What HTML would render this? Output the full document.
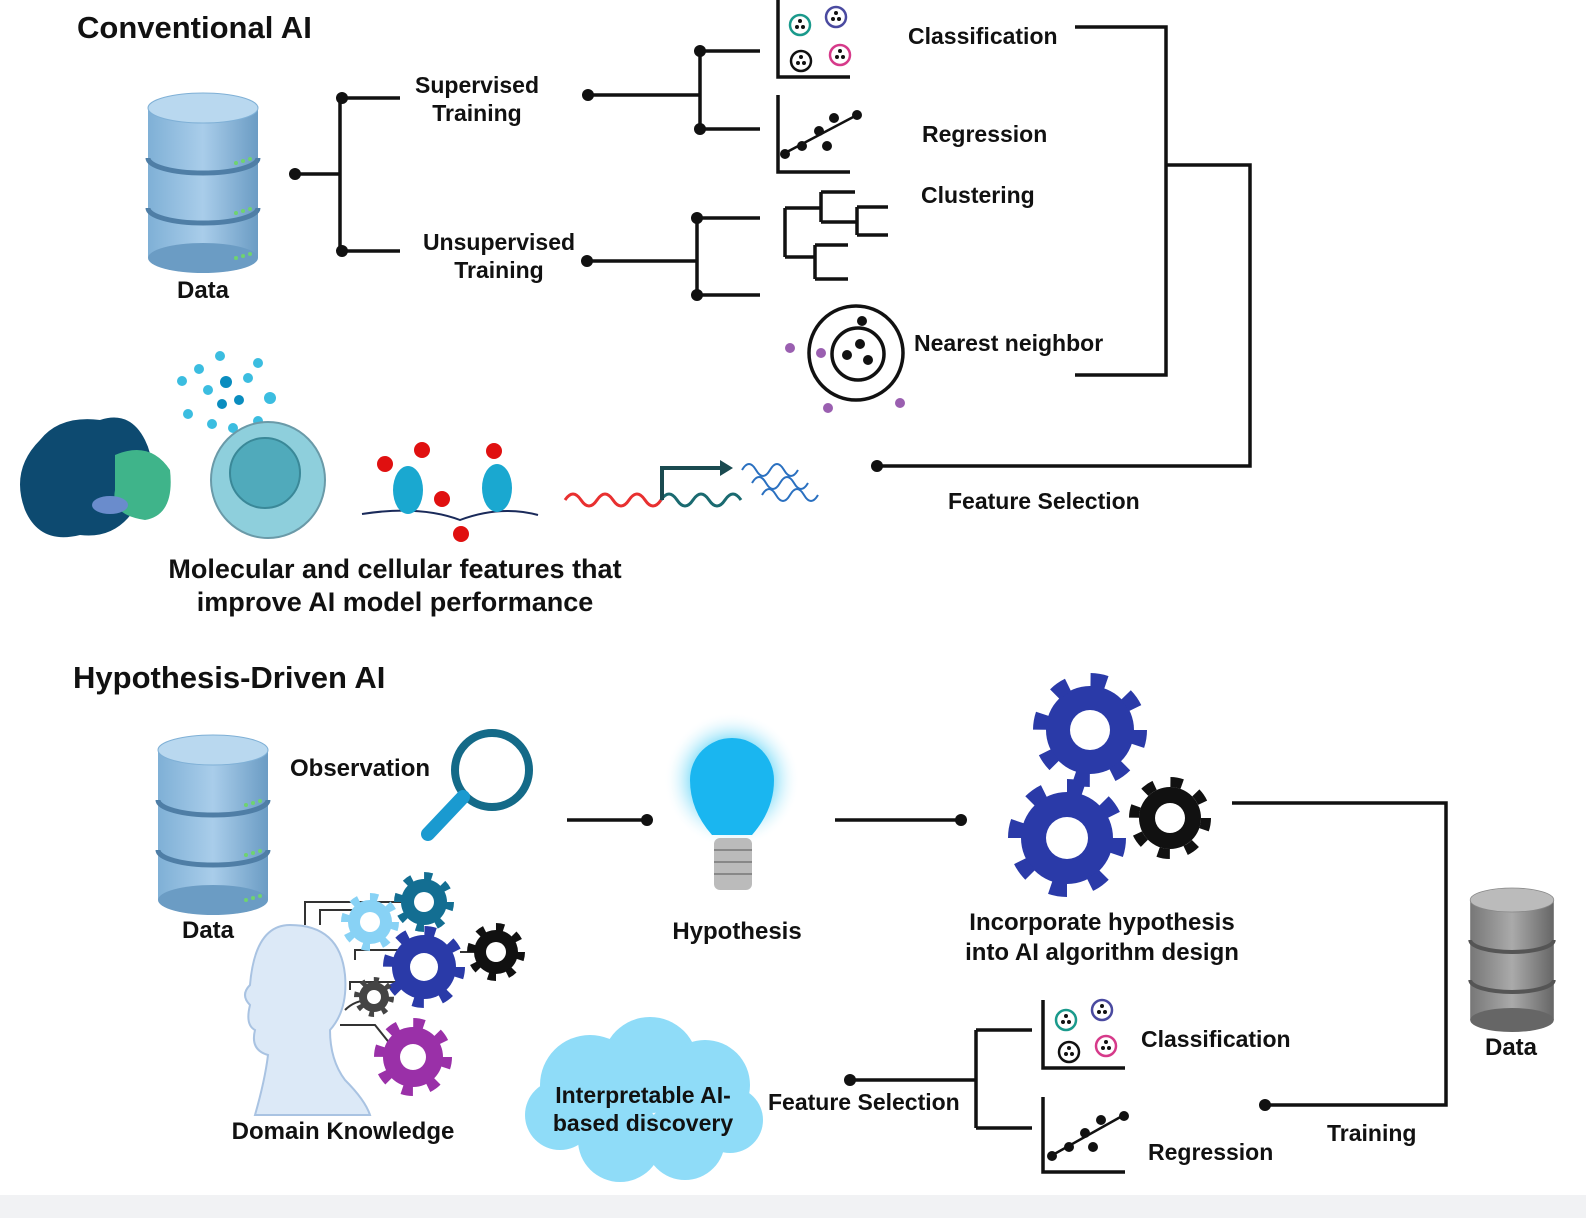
<!DOCTYPE html>
<html><head><meta charset="utf-8"><style>
html,body{margin:0;padding:0;background:#fff}
svg{display:block}
text{font-family:"Liberation Sans",sans-serif;font-weight:bold;fill:#111}
</style></head><body>
<svg width="1586" height="1218" viewBox="0 0 1586 1218" xmlns="http://www.w3.org/2000/svg">
<defs>
<linearGradient id="dbb" x1="0" x2="1"><stop offset="0" stop-color="#7fb0d6"/><stop offset=".5" stop-color="#a9cdea"/><stop offset="1" stop-color="#6b9cc4"/></linearGradient>
<linearGradient id="dbg" x1="0" x2="1"><stop offset="0" stop-color="#777"/><stop offset=".5" stop-color="#aaa"/><stop offset="1" stop-color="#666"/></linearGradient>
<radialGradient id="glow"><stop offset="0" stop-color="#29c6f5"/><stop offset=".6" stop-color="#7fdcf8" stop-opacity=".8"/><stop offset="1" stop-color="#fff" stop-opacity="0"/></radialGradient>
<g id="db">
<rect x="-55" y="0" width="110" height="150" fill="url(#dbb)"/>
<ellipse cx="0" cy="150" rx="55" ry="15" fill="#6b9cc4"/>
<path d="M-55 50 a55 15 0 0 0 110 0" fill="none" stroke="#4f7ea6" stroke-width="5"/>
<path d="M-55 100 a55 15 0 0 0 110 0" fill="none" stroke="#4f7ea6" stroke-width="5"/>
<ellipse cx="0" cy="0" rx="55" ry="15" fill="#b9d8ef" stroke="#7fb0d6"/>
<circle cx="33" cy="55" r="2" fill="#6fd36f"/><circle cx="40" cy="53" r="2" fill="#6fd36f"/><circle cx="47" cy="51" r="2" fill="#6fd36f"/>
<circle cx="33" cy="105" r="2" fill="#6fd36f"/><circle cx="40" cy="103" r="2" fill="#6fd36f"/><circle cx="47" cy="101" r="2" fill="#6fd36f"/>
<circle cx="33" cy="150" r="2" fill="#6fd36f"/><circle cx="40" cy="148" r="2" fill="#6fd36f"/><circle cx="47" cy="146" r="2" fill="#6fd36f"/>
</g>
</defs>
<rect x="0" y="1195" width="1586" height="23" fill="#f1f2f4"/>

<text x="77" y="38" font-size="31">Conventional AI</text>
<use href="#db" x="203" y="108"/>
<text x="203" y="298" font-size="24" text-anchor="middle">Data</text>

<g stroke="#111" stroke-width="3.5" fill="none">
<path d="M295 174H340M340 98V251M340 98H400M340 251H400"/>
<path d="M588 95H700M700 51V129M700 51H760M700 129H760"/>
<path d="M587 261H697M697 218V295M697 218H760M697 295H760"/>
<path d="M778 0V77H850M778 95V172H850"/>
<path d="M785 208V257M785 208H821M821 192V222M821 192H855M821 222H857M857 207V235M857 207H888M857 235H888M785 257H815M815 245V279M815 245H848M815 279H848"/>
<path d="M1075 27H1166V375H1075M1166 165H1250V466H877"/>
<path d="M785 153L857 115" stroke-width="2.5"/>
</g>
<g fill="#111"><circle cx="295" cy="174" r="6"/><circle cx="342" cy="98" r="6"/><circle cx="342" cy="251" r="6"/>
<circle cx="588" cy="95" r="6"/><circle cx="700" cy="51" r="6"/><circle cx="700" cy="129" r="6"/>
<circle cx="587" cy="261" r="6"/><circle cx="697" cy="218" r="6"/><circle cx="697" cy="295" r="6"/>
<circle cx="877" cy="466" r="6"/>
<circle cx="785" cy="154" r="5"/><circle cx="802" cy="146" r="5"/><circle cx="819" cy="131" r="5"/><circle cx="827" cy="146" r="5"/><circle cx="834" cy="118" r="5"/><circle cx="857" cy="115" r="5"/>
</g>
<g fill="none" stroke-width="2.5"><circle cx="800" cy="25" r="10" stroke="#1a9a8c"/><circle cx="836" cy="17" r="10" stroke="#4a4aa0"/><circle cx="801" cy="61" r="10" stroke="#111"/><circle cx="840" cy="55" r="10" stroke="#d63a8a"/></g>
<g fill="#111"><circle cx="797" cy="27" r="2"/><circle cx="803" cy="27" r="2"/><circle cx="800" cy="21" r="2"/><circle cx="833" cy="19" r="2"/><circle cx="839" cy="19" r="2"/><circle cx="836" cy="13" r="2"/><circle cx="798" cy="63" r="2"/><circle cx="804" cy="63" r="2"/><circle cx="801" cy="57" r="2"/><circle cx="837" cy="57" r="2"/><circle cx="843" cy="57" r="2"/><circle cx="840" cy="51" r="2"/></g>

<circle cx="856" cy="353" r="47" fill="none" stroke="#111" stroke-width="3.5"/>
<circle cx="858" cy="354" r="26" fill="none" stroke="#111" stroke-width="3.5"/>
<g fill="#111"><circle cx="862" cy="321" r="5"/><circle cx="847" cy="355" r="5"/><circle cx="860" cy="344" r="5"/><circle cx="868" cy="360" r="5"/></g>
<g fill="#9a5fb0"><circle cx="790" cy="348" r="5"/><circle cx="821" cy="353" r="5"/><circle cx="828" cy="408" r="5"/><circle cx="900" cy="403" r="5"/></g>

<g font-size="23" text-anchor="middle">
<text x="477" y="93">Supervised</text><text x="477" y="121">Training</text>
<text x="499" y="250">Unsupervised</text><text x="499" y="278">Training</text>
</g>
<g font-size="23">
<text x="908" y="44">Classification</text><text x="922" y="142">Regression</text><text x="921" y="203">Clustering</text><text x="914" y="351">Nearest neighbor</text>
<text x="948" y="509">Feature Selection</text>
</g>

<!-- molecular icons -->
<path d="M40 440 Q60 415 100 420 Q130 410 145 440 Q160 470 140 500 Q120 540 80 535 Q40 545 25 510 Q10 470 40 440Z" fill="#0d4a70"/>
<path d="M115 455 Q150 440 170 470 Q175 515 145 520 Q110 515 115 490Z" fill="#3fb48a"/>
<ellipse cx="110" cy="505" rx="18" ry="9" fill="#6a8ccc"/>
<g fill="#3bbde0"><circle cx="220" cy="356" r="5"/><circle cx="258" cy="363" r="5"/><circle cx="199" cy="369" r="5"/><circle cx="182" cy="381" r="5"/><circle cx="226" cy="382" r="6" fill="#0a8dbf"/><circle cx="248" cy="378" r="5"/><circle cx="208" cy="390" r="5"/><circle cx="222" cy="404" r="5" fill="#0a8dbf"/><circle cx="239" cy="400" r="5" fill="#0a8dbf"/><circle cx="270" cy="398" r="6"/><circle cx="188" cy="414" r="5"/><circle cx="212" cy="424" r="5"/><circle cx="233" cy="428" r="5"/><circle cx="258" cy="421" r="5"/></g>
<ellipse cx="268" cy="480" rx="57" ry="58" fill="#8ecfdc" stroke="#6a9aa8" stroke-width="2"/>
<ellipse cx="265" cy="473" rx="35" ry="35" fill="#50aabb" stroke="#3a8898" stroke-width="2"/>
<path d="M362 514 Q420 505 460 520 Q500 505 538 515" fill="none" stroke="#1a2a5a" stroke-width="2"/>
<ellipse cx="408" cy="490" rx="15" ry="24" fill="#1aa8d0"/><ellipse cx="497" cy="488" rx="15" ry="24" fill="#1aa8d0"/>
<g fill="#e01010"><circle cx="385" cy="464" r="8"/><circle cx="422" cy="450" r="8"/><circle cx="442" cy="499" r="8"/><circle cx="494" cy="451" r="8"/><circle cx="461" cy="534" r="8"/></g>
<path d="M565 500 q8 -12 16 0 t16 0 t16 0 t16 0 t16 0 t16 0" fill="none" stroke="#e83030" stroke-width="3"/>
<path d="M661 500 q8 -12 16 0 t16 0 t16 0 t16 0 t16 0" fill="none" stroke="#1a6a70" stroke-width="3"/>
<path d="M662 500V468H722" fill="none" stroke="#1a4a50" stroke-width="4"/><path d="M720 460L733 468L720 476Z" fill="#1a4a50"/>
<path d="M742 470 q7 -12 14 0 t14 0 t14 0 t14 0M752 483 q7 -12 14 0 t14 0 t14 0 t14 0M762 495 q7 -12 14 0 t14 0 t14 0 t14 0" fill="none" stroke="#2a70c0" stroke-width="2"/>
<g font-size="27" text-anchor="middle"><text x="395" y="578">Molecular and cellular features that</text><text x="395" y="611">improve AI model performance</text></g>

<!-- Hypothesis-driven -->
<text x="73" y="688" font-size="31">Hypothesis-Driven AI</text>
<use href="#db" x="213" y="750"/>
<text x="208" y="938" font-size="24" text-anchor="middle">Data</text>
<text x="290" y="776" font-size="24">Observation</text>
<circle cx="492" cy="770" r="37" fill="none" stroke="#146a88" stroke-width="8"/>
<path d="M463 797L428 834" stroke="#1a9ad0" stroke-width="14" stroke-linecap="round"/>
<g stroke="#111" stroke-width="3.5"><path d="M567 820H647M835 820H961"/></g>
<circle cx="647" cy="820" r="6" fill="#111"/><circle cx="961" cy="820" r="6" fill="#111"/>
<circle cx="732" cy="780" r="68" fill="url(#glow)"/>
<path d="M690 780 a42 42 0 1 1 84 0 q0 30 -22 55 h-40 q-22 -25 -22 -55Z" fill="#1ab6f0"/>
<rect x="714" y="838" width="38" height="52" rx="6" fill="#bbb"/>
<g stroke="#888" stroke-width="2"><path d="M714 850H752M714 862H752M714 874H752"/></g>
<text x="737" y="939" font-size="24" text-anchor="middle">Hypothesis</text>

<!-- gears -->
<g id="gears">
<g transform="translate(1090,730)"><circle r="44" fill="#2a3aa8"/><circle r="50" fill="none" stroke="#2a3aa8" stroke-width="14" stroke-dasharray="16 23.3"/><circle r="20" fill="#fff"/></g>
<g transform="translate(1067,838)"><circle r="46" fill="#2a3aa8"/><circle r="52" fill="none" stroke="#2a3aa8" stroke-width="14" stroke-dasharray="17 23.8"/><circle r="21" fill="#fff"/></g>
<g transform="translate(1170,818)"><circle r="31" fill="#111"/><circle r="36" fill="none" stroke="#111" stroke-width="10" stroke-dasharray="12 16.3"/><circle r="15" fill="#fff"/></g>
</g>
<g font-size="24" text-anchor="middle"><text x="1102" y="930">Incorporate hypothesis</text><text x="1102" y="960">into AI algorithm design</text></g>

<g stroke="#111" stroke-width="3.5" fill="none"><path d="M1232 803H1446V1105H1265"/>
<path d="M850 1080H976M976 1030V1128M976 1030H1032M976 1128H1032"/>
<path d="M1043 1000V1068H1125M1043 1097V1172H1125"/>
<path d="M1049 1157L1124 1115" stroke-width="2.5"/></g>
<circle cx="1265" cy="1105" r="6" fill="#111"/><circle cx="850" cy="1080" r="6" fill="#111"/>
<g fill="#111"><circle cx="1052" cy="1156" r="5"/><circle cx="1069" cy="1147" r="5"/><circle cx="1085" cy="1133" r="5"/><circle cx="1093" cy="1147" r="5"/><circle cx="1101" cy="1120" r="5"/><circle cx="1124" cy="1116" r="5"/></g>
<g fill="none" stroke-width="2.5"><circle cx="1066" cy="1020" r="10" stroke="#1a9a8c"/><circle cx="1102" cy="1010" r="10" stroke="#4a4aa0"/><circle cx="1069" cy="1052" r="10" stroke="#111"/><circle cx="1106" cy="1046" r="10" stroke="#d63a8a"/></g>
<g fill="#111"><circle cx="1063" cy="1022" r="2"/><circle cx="1069" cy="1022" r="2"/><circle cx="1066" cy="1016" r="2"/><circle cx="1099" cy="1012" r="2"/><circle cx="1105" cy="1012" r="2"/><circle cx="1102" cy="1006" r="2"/><circle cx="1066" cy="1054" r="2"/><circle cx="1072" cy="1054" r="2"/><circle cx="1069" cy="1048" r="2"/><circle cx="1103" cy="1048" r="2"/><circle cx="1109" cy="1048" r="2"/><circle cx="1106" cy="1042" r="2"/></g>
<g font-size="23"><text x="1141" y="1047">Classification</text><text x="1148" y="1160">Regression</text><text x="1327" y="1141">Training</text><text x="768" y="1110">Feature Selection</text></g>

<g transform="translate(1512,900) scale(0.76,0.8)">
<rect x="-55" y="0" width="110" height="150" fill="url(#dbg)"/><ellipse cx="0" cy="150" rx="55" ry="15" fill="#666"/>
<path d="M-55 50 a55 15 0 0 0 110 0M-55 100 a55 15 0 0 0 110 0" fill="none" stroke="#555" stroke-width="5"/>
<ellipse cx="0" cy="0" rx="55" ry="15" fill="#bbb" stroke="#888"/></g>
<text x="1511" y="1055" font-size="24" text-anchor="middle">Data</text>

<!-- cloud -->
<g fill="#8fdcf8"><circle cx="590" cy="1085" r="50"/><circle cx="650" cy="1065" r="48"/><circle cx="705" cy="1085" r="45"/><circle cx="560" cy="1115" r="35"/><circle cx="730" cy="1120" r="33"/><circle cx="620" cy="1140" r="42"/><circle cx="685" cy="1140" r="40"/></g>
<g font-size="23" text-anchor="middle"><text x="643" y="1103">Interpretable AI-</text><text x="643" y="1131">based discovery</text></g>

<!-- head -->
<path d="M290 925 Q340 925 345 975 Q348 1010 330 1030 Q330 1060 345 1080 Q365 1100 370 1115 H255 Q265 1080 268 1055 Q250 1050 255 1030 Q245 1025 250 1005 Q240 995 250 985 Q255 925 290 925Z" fill="#dce9f7" stroke="#a9c3e2" stroke-width="2"/>
<g stroke="#333" stroke-width="2" fill="none"><path d="M305 925V902H430M320 925V910H370M355 960V950H420M350 990V982H400M345 1010Q355 1000 370 1000M340 1025H375L395 1050H410M460 952H500"/></g>
<g transform="translate(424,902)"><circle r="23" fill="#136e92"/><circle r="26" fill="none" stroke="#136e92" stroke-width="8" stroke-dasharray="8 12.4"/><circle r="10" fill="#fff"/></g>
<g transform="translate(370,922)"><circle r="22" fill="#88d2f5"/><circle r="25" fill="none" stroke="#88d2f5" stroke-width="8" stroke-dasharray="8 11.6"/><circle r="10" fill="#fff"/></g>
<g transform="translate(424,967)"><circle r="32" fill="#2a3aa8"/><circle r="36" fill="none" stroke="#2a3aa8" stroke-width="10" stroke-dasharray="11 17.3"/><circle r="14" fill="#fff"/></g>
<g transform="translate(496,952)"><circle r="22" fill="#111"/><circle r="25" fill="none" stroke="#111" stroke-width="8" stroke-dasharray="8 11.6"/><circle r="10" fill="#fff"/></g>
<g transform="translate(374,997)"><circle r="15" fill="#444"/><circle r="17" fill="none" stroke="#444" stroke-width="6" stroke-dasharray="5 8.3"/><circle r="7" fill="#fff"/></g>
<g transform="translate(413,1057)"><circle r="30" fill="#9a30a8"/><circle r="34" fill="none" stroke="#9a30a8" stroke-width="10" stroke-dasharray="11 15.7"/><circle r="13" fill="#fff"/></g>
<text x="343" y="1139" font-size="24" text-anchor="middle">Domain Knowledge</text>
</svg>
</body></html>
